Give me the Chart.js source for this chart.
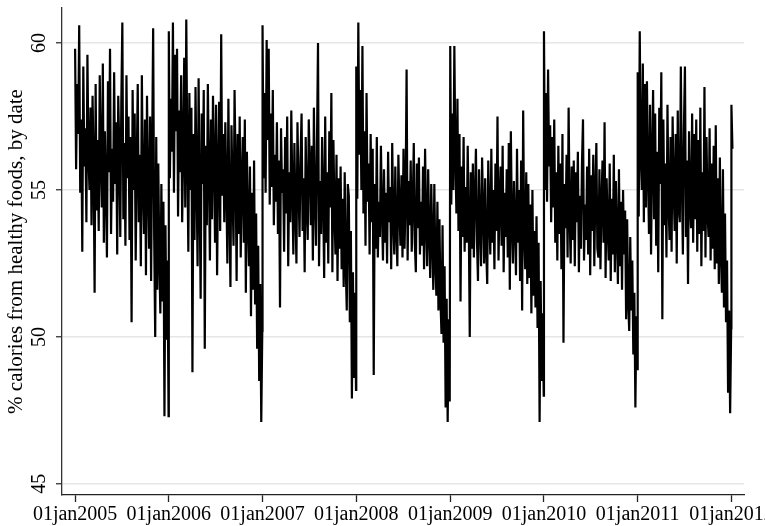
<!DOCTYPE html>
<html>
<head>
<meta charset="utf-8">
<script src="https://cdn.jsdelivr.net/npm/chart.js@4.4.1/dist/chart.umd.min.js"></script>
<style>
  html, body { margin: 0; padding: 0; background: #fff; overflow: hidden; }
  canvas { display: block; }
</style>
</head>
<body>
<canvas id="chart" width="765" height="526"></canvas>
<script>
// days from 01jan2005 to the first day of each year
const yearStartDays = [0, 365, 730, 1095, 1461, 1826, 2191, 2556];
const xTickLabels = ["01jan2005", "01jan2006", "01jan2007", "01jan2008",
                     "01jan2009", "01jan2010", "01jan2011", "01jan2012"];
const yTickValues = [45, 50, 55, 60];
const dayStep = 4; // one reading every 4 days

// one line per month (jan..dec)
const y2005 = [
  59.8, 55.7, 58.6, 56.9, 60.6, 54.9, 57.4, 52.9,
  59.2, 55.8, 57.1, 53.9, 59.6, 56.2, 55.0,
  57.8, 53.8, 58.2, 55.9, 51.5, 58.6, 54.3, 56.7,
  53.6, 58.9, 56.0, 54.4, 59.3, 53.2, 57.0,
  55.1, 52.7, 58.7, 55.6, 59.8, 53.5, 56.4, 54.6,
  59.0, 55.2, 57.3, 52.8, 58.2, 56.5, 53.4, 58.0,
  60.7, 54.0, 56.6, 53.1, 58.9, 55.4, 57.5, 53.3,
  56.8, 50.5, 58.4, 55.0, 57.6, 52.6, 55.9,
  58.6, 53.9, 56.2, 52.4, 58.9, 55.1, 53.5, 57.4,
  52.1, 58.2, 55.3, 53.0, 57.5, 51.9, 56.4,
  60.5, 53.4, 50.0, 56.8, 51.6, 55.9, 52.7, 50.8,
  55.2, 51.2, 54.6, 47.3, 53.8, 49.9, 52.6, 47.3
];
const y2006 = [
  60.4, 55.4, 58.1, 56.3, 60.7, 54.9, 59.6, 57.0,
  59.8, 54.1, 57.7, 55.6, 58.9, 53.9, 56.4,
  59.5, 54.4, 60.8, 56.2, 52.9, 58.3, 55.0, 57.8,
  48.8, 56.9, 53.3, 58.5, 55.4, 52.4, 58.8,
  54.7, 51.3, 57.6, 55.2, 58.4, 49.6, 56.5, 53.8,
  58.6, 55.7, 52.6, 57.4, 54.0, 58.2, 56.1, 53.2,
  57.9, 52.1, 55.6, 58.0, 53.6, 60.3, 54.8, 56.9,
  53.9, 57.3, 55.1, 52.5, 58.1, 54.4, 51.7,
  57.2, 55.0, 53.1, 58.4, 55.8, 51.9, 56.9, 53.5,
  57.5, 52.7, 55.3, 56.8, 53.2, 57.4, 51.5,
  56.3, 54.1, 52.4, 55.8, 50.7, 54.9, 51.6, 56.0,
  51.1, 54.2, 49.6, 53.1, 48.5, 51.8, 47.1, 50.2
];
const y2007 = [
  60.6, 55.4, 58.3, 54.9, 60.1, 56.7, 59.8, 54.5,
  57.6, 55.1, 58.4, 53.8, 56.2, 54.6, 57.3,
  53.5, 56.0, 51.0, 57.1, 54.9, 55.7, 52.9, 56.8,
  54.2, 57.5, 52.4, 55.6, 53.9, 57.7, 55.0,
  52.8, 56.6, 54.4, 52.5, 57.3, 55.2, 53.4, 56.1,
  57.6, 53.6, 55.4, 52.2, 56.8, 54.5, 53.3, 57.4,
  55.9, 53.8, 56.5, 52.6, 57.8, 54.7, 53.1, 56.6,
  60.0, 52.4, 55.3, 53.5, 56.8, 54.8, 52.0,
  57.5, 53.2, 55.6, 52.5, 57.0, 54.4, 58.3, 52.2,
  56.7, 54.3, 52.8, 56.2, 51.9, 55.4, 53.0,
  55.8, 52.3, 54.7, 51.7, 55.6, 52.4, 50.9, 55.2,
  54.8, 50.5, 53.6, 47.9, 52.2, 48.6, 51.5, 48.2
];
const y2008 = [
  59.2, 54.7, 60.7, 56.2, 58.4, 55.0, 59.9, 54.2,
  57.0, 53.1, 58.3, 54.6, 55.9, 52.8, 56.9,
  53.9, 56.4, 48.7, 55.2, 53.0, 56.8, 52.7, 54.6,
  53.4, 56.5, 54.3, 52.6, 55.7, 53.2, 54.9,
  52.5, 56.3, 53.9, 55.1, 52.3, 56.6, 54.0, 52.8,
  55.8, 53.6, 52.4, 56.2, 54.4, 53.1, 55.5, 52.7,
  56.4, 53.0, 54.7, 59.1, 52.6, 55.3, 53.8, 56.0,
  52.9, 54.5, 56.6, 53.2, 52.2, 55.9, 53.7,
  56.1, 52.8, 54.6, 53.1, 55.8, 52.3, 56.4, 53.9,
  52.4, 55.7, 53.6, 52.0, 55.2, 53.3, 51.6,
  55.2, 52.5, 51.4, 54.6, 50.9, 54.0, 51.2, 50.1,
  53.8, 49.8, 52.4, 47.6, 51.3, 47.1, 50.6, 47.8
];
const y2009 = [
  59.9, 54.5, 57.6, 55.0, 59.9, 56.1, 54.2, 58.1,
  53.6, 56.9, 51.2, 55.8, 53.4, 56.8, 52.9,
  55.1, 53.2, 56.5, 54.0, 50.0, 55.6, 53.0, 55.9,
  52.7, 54.8, 56.4, 53.3, 51.9, 55.7, 53.9,
  52.4, 56.1, 54.3, 52.5, 55.4, 53.0, 51.8, 56.0,
  54.1, 52.8, 56.4, 53.2, 55.0, 52.3, 55.9, 53.6,
  57.5, 52.6, 54.6, 55.8, 53.1, 56.5, 52.2, 54.9,
  53.4, 55.7, 52.7, 56.6, 51.6, 57.0, 53.9,
  52.5, 55.3, 53.8, 52.1, 56.4, 53.2, 55.0, 51.9,
  56.0, 50.9, 57.7, 53.5, 52.3, 55.6, 51.8,
  55.2, 52.0, 54.5, 50.8, 55.0, 51.4, 53.6, 51.0,
  54.1, 50.3, 53.2, 47.1, 51.9, 48.5, 50.8, 48.0
];
const y2010 = [
  60.4, 55.0, 58.3, 54.6, 59.1, 55.8, 57.2, 53.9,
  56.8, 54.4, 57.4, 53.2, 55.6, 52.6, 56.5,
  53.5, 55.9, 52.3, 56.9, 49.8, 55.2, 53.7, 56.2,
  52.7, 57.8, 54.1, 52.5, 55.8, 53.3, 56.0,
  52.4, 55.6, 53.9, 56.3, 52.2, 54.8, 53.0, 55.9,
  57.4, 52.6, 54.5, 53.3, 55.8, 52.8, 56.4, 52.1,
  55.5, 53.6, 56.2, 52.4, 54.9, 56.6, 53.0, 52.7,
  55.7, 52.3, 54.6, 56.0, 53.2, 57.3, 52.0,
  55.4, 53.8, 52.6, 55.9, 51.9, 54.7, 52.8, 56.2,
  52.2, 55.3, 53.5, 51.8, 55.7, 52.4, 54.6,
  51.6, 55.0, 52.8, 54.3, 50.6, 54.0, 51.2, 50.2,
  53.4, 50.9, 52.6, 49.4, 51.5, 47.6, 50.7, 48.9
];
const y2011 = [
  59.0, 54.1, 60.4, 56.2, 55.0, 59.3, 53.9, 58.6,
  54.4, 58.7, 55.6, 53.5, 57.9, 52.8, 56.1,
  58.4, 54.0, 57.6, 53.1, 56.3, 52.2, 57.8, 55.2,
  59.0, 50.6, 57.4, 53.8, 55.9, 52.7, 57.9,
  54.6, 53.3, 56.8, 52.9, 57.5, 55.1, 53.6, 56.9,
  52.5, 57.7, 54.4, 53.9, 59.2, 55.3, 52.8, 57.1,
  59.2, 53.4, 56.0, 51.8, 57.0, 54.5, 53.7, 57.6,
  53.2, 56.9, 54.0, 57.4, 52.9, 56.7, 53.5,
  57.8, 52.4, 55.6, 53.6, 58.5, 52.7, 56.8, 54.2,
  53.4, 57.1, 52.6, 55.9, 53.0, 56.5, 52.3,
  57.2, 52.5, 55.4, 51.8, 56.1, 52.8, 51.5, 55.7,
  51.0, 54.2, 50.5, 52.6, 48.1, 50.9, 47.4, 50.3
];
const y2012 = [57.9, 56.4];

const yearValues = [y2005, y2006, y2007, y2008, y2009, y2010, y2011, y2012];
const points = [];
yearValues.forEach((vals, k) => {
  vals.forEach((v, j) => {
    points.push({ x: yearStartDays[k] + j * dayStep, y: v });
  });
});

const serif = "'Liberation Serif', 'Times New Roman', serif";

new Chart(document.getElementById("chart"), {
  type: "line",
  data: {
    datasets: [
      {
        data: points,
        borderColor: "#000",
        borderWidth: 2.2,
        pointRadius: 0,
        tension: 0,
        fill: false,
      },
    ],
  },
  options: {
    responsive: false,
    animation: false,
    devicePixelRatio: 1,
    layout: { padding: { left: 0, right: 21, top: 8, bottom: 0 } },
    plugins: {
      legend: { display: false },
      tooltip: { enabled: false },
    },
    scales: {
      x: {
        type: "linear",
        min: -51,
        max: 2605,
        afterBuildTicks: (axis) => {
          axis.ticks = yearStartDays.map((d) => ({ value: d }));
        },
        afterFit: (axis) => {
          axis.height = 31;
          axis.paddingLeft = 0;
          axis.paddingRight = 0;
        },
        grid: {
          drawOnChartArea: false,
          drawTicks: true,
          tickLength: 7,
          tickColor: "#222",
          tickWidth: 1.3,
        },
        border: { display: true, color: "#222", width: 1.3 },
        ticks: {
          autoSkip: false,
          minRotation: 0,
          maxRotation: 0,
          padding: 1,
          color: "#000",
          font: { family: serif, size: 20 },
          callback: (v, i) => xTickLabels[i],
        },
      },
      y: {
        min: 44.62,
        max: 61.19,
        afterBuildTicks: (axis) => {
          axis.ticks = yTickValues.map((v) => ({ value: v }));
        },
        afterFit: (axis) => {
          axis.width = 62;
          axis.paddingTop = 0;
          axis.paddingBottom = 0;
        },
        grid: {
          color: "#e6e6e6",
          lineWidth: 1.5,
          tickLength: 6,
          tickColor: "#333",
          tickWidth: 1.3,
        },
        border: { color: "#333", width: 1.3 },
        ticks: {
          minRotation: 90,
          maxRotation: 90,
          crossAlign: "center",
          padding: 6,
          color: "#000",
          font: { family: serif, size: 20 },
        },
        title: {
          display: true,
          text: "% calories from healthy foods, by date",
          color: "#000",
          font: { family: serif, size: 21 },
          padding: { top: 4, bottom: 0 },
        },
      },
    },
  },
});
</script>
</body>
</html>
